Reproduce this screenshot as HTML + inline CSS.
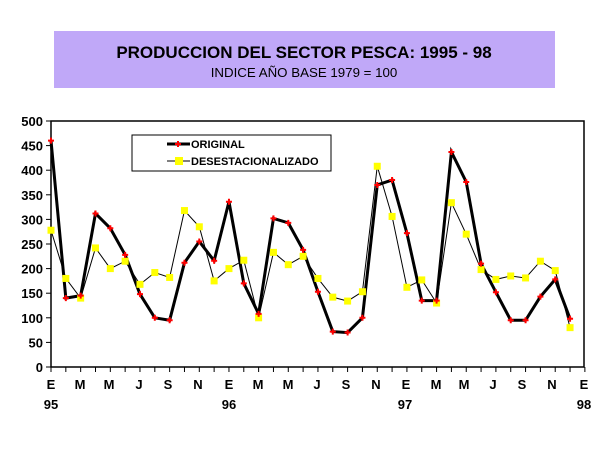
<!DOCTYPE html>
<html><head><style>
body{margin:0;background:#fff;width:615px;height:461px;overflow:hidden;font-family:"Liberation Sans",Arial,sans-serif}
</style></head><body>
<svg width="615" height="461" xmlns="http://www.w3.org/2000/svg" font-family="Liberation Sans, Arial, sans-serif">
<rect x="54" y="31" width="501" height="57" fill="#c0a8f8"/>
<text x="304" y="58" font-size="17" font-weight="bold" text-anchor="middle">PRODUCCION DEL SECTOR PESCA: 1995 - 98</text>
<text x="304" y="77" font-size="13.3" text-anchor="middle">INDICE AÑO BASE 1979 = 100</text>
<rect x="51" y="121" width="533" height="246" fill="none" stroke="#000" stroke-width="1.5"/>
<g id="g"></g>
<rect x="132" y="135" width="199" height="36" fill="#fff" stroke="#000"/>
<line x1="167" y1="144" x2="190" y2="144" stroke="#000" stroke-width="3"/>
<path d="M175 144h6M178 141v6" stroke="red" stroke-width="2"/>
<text x="191" y="148" font-size="11" font-weight="bold">ORIGINAL</text>
<line x1="167" y1="161" x2="190" y2="161" stroke="#000"/>
<rect x="175" y="157" width="8" height="8" fill="#ff0"/>
<text x="191" y="165" font-size="11" font-weight="bold">DESESTACIONALIZADO</text>
<g font-size="13" font-weight="bold" text-anchor="middle">
<text x="51" y="389">E</text><text x="80" y="389">M</text><text x="109" y="389">M</text><text x="139" y="389">J</text><text x="168" y="389">S</text><text x="198" y="389">N</text><text x="229" y="389">E</text><text x="258" y="389">M</text><text x="288" y="389">M</text><text x="317" y="389">J</text><text x="346" y="389">S</text><text x="376" y="389">N</text><text x="406" y="389">E</text><text x="436" y="389">M</text><text x="464" y="389">M</text><text x="493" y="389">J</text><text x="522" y="389">S</text><text x="552" y="389">N</text><text x="584" y="389">E</text>
<text x="51" y="409">95</text><text x="229" y="409">96</text><text x="405" y="409">97</text><text x="584" y="409">98</text>
</g>
</svg>
<script>
var o=[460,140,145,312,282,228,148,100,95,212,255,216,336,170,108,302,293,238,153,72,70,100,370,380,272,135,135,437,376,210,152,95,95,143,178,98];
var d=[278,180,140,242,200,215,168,192,182,318,285,175,200,217,100,233,208,225,180,142,134,153,408,306,162,177,130,334,270,198,178,185,181,215,196,80];
var X=i=>51+i*14.83,Y=v=>367-v*0.492;var s='';
for(var v=0;v<=500;v+=50){s+='<line x1="46" x2="51" y1="'+Y(v)+'" y2="'+Y(v)+'" stroke="#000"/><text x="43" y="'+(Y(v)+5)+'" font-size="13" font-weight="bold" text-anchor="end">'+v+'</text>';}
for(var i=0;i<=36;i++)s+='<line x1="'+X(i)+'" x2="'+X(i)+'" y1="367" y2="372" stroke="#000"/>';
s+='<polyline fill="none" stroke="#000" stroke-width="1" points="'+d.map((v,i)=>X(i)+','+Y(v)).join(' ')+'"/>';
s+='<polyline fill="none" stroke="#000" stroke-width="3" points="'+o.map((v,i)=>X(i)+','+Y(v)).join(' ')+'"/>';
d.forEach((v,i)=>s+='<rect x="'+(X(i)-3.5)+'" y="'+(Y(v)-3.5)+'" width="7" height="7" fill="#ff0"/>');
o.forEach((v,i)=>s+='<path d="M'+(X(i)-3)+' '+Y(v)+'h6M'+X(i)+' '+(Y(v)-3)+'v6" stroke="red" stroke-width="2"/>');
document.getElementById('g').outerHTML=s;
</script>
</body></html>
